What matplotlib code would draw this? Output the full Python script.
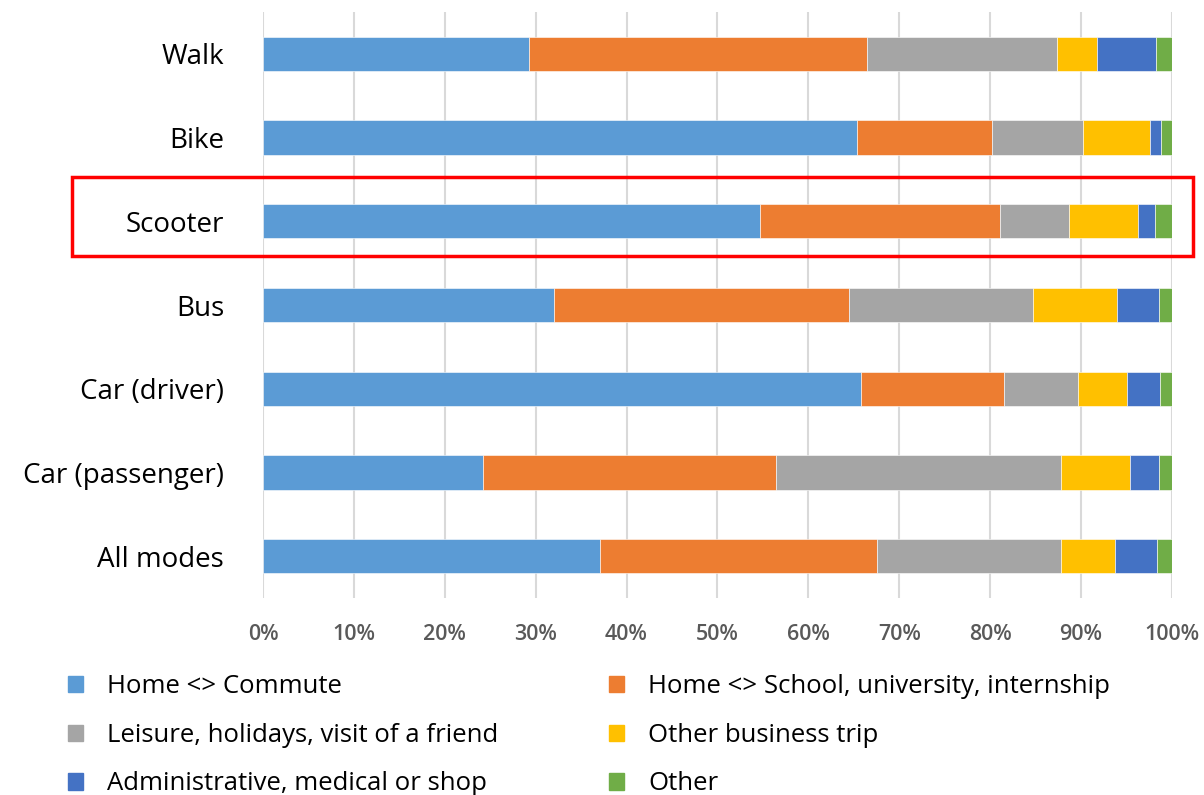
import matplotlib
matplotlib.use("Agg")
import matplotlib.pyplot as plt
import matplotlib.transforms as mtransforms
from matplotlib.patches import Patch, Rectangle
import numpy as np

plt.rcParams['font.family'] = ['Open Sans', 'DejaVu Sans']

modes = ["Walk", "Bike", "Scooter", "Bus", "Car (driver)", "Car (passenger)", "All modes"]
purposes = [
    "Home <> Commute",
    "Home <> School, university, internship",
    "Leisure, holidays, visit of a friend",
    "Other business trip",
    "Administrative, medical or shop",
    "Other",
]
colors = ["#5B9BD5", "#ED7D31", "#A5A5A5", "#FFC000", "#4472C4", "#70AD47"]

# share of trips (%) per purpose, one list per purpose, ordered as `modes`
commute  = [29.3, 65.4, 54.7, 32.0, 65.8, 24.2, 37.1]
school   = [37.1, 14.8, 26.4, 32.5, 15.7, 32.2, 30.5]
leisure  = [20.9, 10.0,  7.6, 20.2,  8.2, 31.4, 20.2]
business = [ 4.5,  7.4,  7.6,  9.2,  5.3,  7.6,  5.9]
admin    = [ 6.4,  1.2,  1.8,  4.7,  3.7,  3.2,  4.7]
other    = [ 1.8,  1.2,  1.9,  1.4,  1.3,  1.4,  1.6]
series = [commute, school, leisure, business, admin, other]

highlight = "Scooter"
xticks = np.arange(0, 101, 10)
xtick_labels = [f"{t}%" for t in xticks]

fig = plt.figure(figsize=(12.04, 7.95), dpi=100)
ax = fig.add_axes([0.2184, 0.2478, 0.755, 0.737])

y = np.arange(len(modes))
left = np.zeros(len(modes))
handles = []
for vals, label, col in zip(series, purposes, colors):
    vals = np.array(vals)
    ax.barh(y, vals, left=left, height=0.41, color=col, edgecolor="white",
            linewidth=0.4, zorder=3)
    left += vals
    handles.append(Patch(facecolor=col, edgecolor=col, label=label))

ax.set_xlim(0, 100)
ax.set_ylim(len(modes) - 0.5, -0.5)
ax.set_yticks(y)
ax.set_yticklabels(modes, fontsize=20, color="black")
ax.set_xticks(xticks)
ax.set_xticklabels(xtick_labels, fontsize=15.5, color="#595959", fontweight=600)
ax.tick_params(axis="y", length=0, pad=28)
ax.tick_params(axis="x", length=0, pad=19)
ax.grid(axis="x", color="#D9D9D9", linewidth=1.5, zorder=0)
ax.set_axisbelow(True)
for s in ax.spines.values():
    s.set_visible(False)

# red frame around the highlighted mode
trans = mtransforms.blended_transform_factory(ax.transAxes, ax.transData)
hi = modes.index(highlight)
rect = Rectangle((-0.21, hi - 0.53), 1.233, 0.95, transform=trans,
                 fill=False, edgecolor="#FF0000", linewidth=2.5,
                 clip_on=False, zorder=5)
ax.add_patch(rect)

# legend: two columns, filled row by row
order = [0, 2, 4, 1, 3, 5]
fig.legend([handles[i] for i in order], [purposes[i] for i in order],
           ncol=2, loc="upper left", bbox_to_anchor=(0.0565, 0.152),
           frameon=False, fontsize=18.5, handlelength=0.6, handleheight=0.6,
           handletextpad=0.93, labelspacing=0.92, columnspacing=4.3,
           borderaxespad=0, borderpad=0)

fig.savefig("out.png", dpi=100)
